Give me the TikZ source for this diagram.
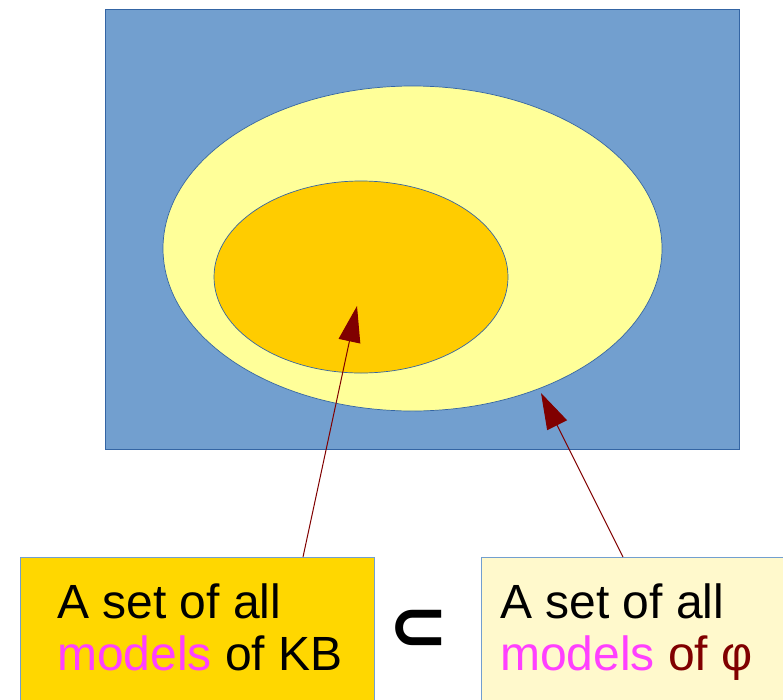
\documentclass[tikz,border=0pt]{standalone}
\usepackage{fontspec}
\setmainfont{Liberation Sans}
\newfontfamily\djv{DejaVu Sans}
\usetikzlibrary{arrows.meta,shapes.geometric}
\definecolor{bgblue}{HTML}{729FCF}
\definecolor{edgeblue}{HTML}{3465A4}
\definecolor{paleyel}{HTML}{FFFF99}
\definecolor{orng}{HTML}{FFCC00}
\definecolor{gold}{HTML}{FFD700}
\definecolor{cream}{HTML}{FFF9CC}
\definecolor{dred}{HTML}{800000}
\definecolor{mag}{HTML}{FF40FF}
\tikzset{
  region/.style={draw=edgeblue, line width=0.7pt, inner sep=0pt},
  labelbox/.style={draw=bgblue, line width=1pt, inner sep=0pt, anchor=north west},
  txt/.style={anchor=base west, inner sep=0pt, font=\fontsize{48}{52}\selectfont},
  pointer/.style={draw=dred, line width=1pt, -{Triangle[length=36pt,width=22pt]}}
}
\begin{document}
\begin{tikzpicture}[x=1pt,y=-1pt]
\useasboundingbox (0,0) rectangle (783,699);
\node[region, fill=bgblue, rectangle, minimum width=634pt, minimum height=440pt, anchor=north west] (world) at (105,9) {};
\node[region, fill=paleyel, ellipse, minimum width=499pt, minimum height=325pt] (phi) at (412.5,248.5) {};
\node[region, fill=orng, ellipse, minimum width=294pt, minimum height=192pt] (kbset) at (361,277) {};
\node[labelbox, fill=gold, minimum width=354pt, minimum height=170pt] (kbbox) at (20,557) {};
\node[labelbox, fill=cream, minimum width=320pt, minimum height=170pt] (phibox) at (481,557) {};
\node[txt] (t1) at (57,618) {A set of all};
\node[txt] (t2) at (57,670) {\textcolor{mag}{models} of KB};
\node[txt] (t3) at (500,618) {A set of all};
\node[txt] (t4) at (500,670) {\textcolor{mag}{models} \textcolor{dred}{of φ}};
\node[anchor=center, inner sep=0pt, font=\djv\bfseries\fontsize{72}{72}\selectfont] (sub) at (419,630) {⊂};
\coordinate (s1) at (303,557);
\coordinate (e1) at (357,306);
\coordinate (s2) at (623,557);
\coordinate (e2) at (541,393);
\draw[pointer] (s1) -- (e1);
\draw[pointer] (s2) -- (e2);
\end{tikzpicture}
\end{document}
